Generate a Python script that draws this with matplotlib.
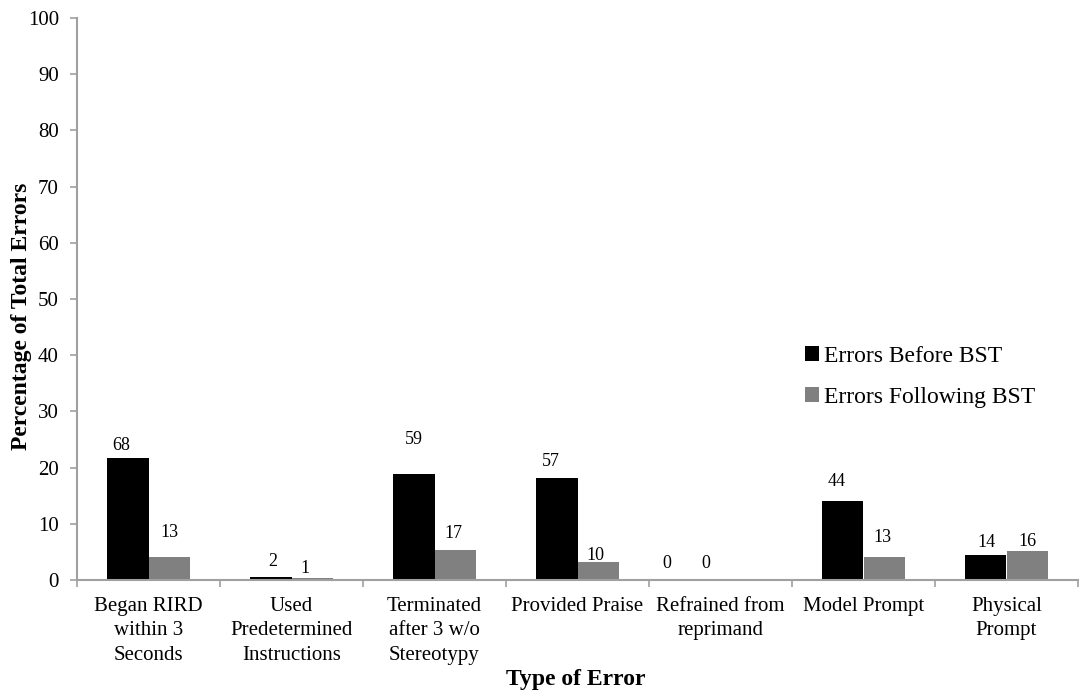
import matplotlib
matplotlib.use("Agg")
import matplotlib.pyplot as plt
from matplotlib.patches import Patch

plt.rcParams["font.family"] = ["Liberation Serif", "DejaVu Serif"]

# --- data ---
categories = ["Began RIRD\nwithin 3\nSeconds", "Used\nPredetermined\nInstructions",
              "Terminated\nafter 3 w/o\nStereotypy", "Provided Praise",
              "Refrained from\nreprimand", "Model Prompt", "Physical\nPrompt"]
pct_before = [21.7, 0.6, 18.8, 18.2, 0.0, 14.0, 4.5]     # % of total errors
pct_after = [4.1, 0.3, 5.4, 3.2, 0.0, 4.1, 5.1]
count_before = [68, 2, 59, 57, 0, 44, 14]                 # printed labels
count_after = [13, 1, 17, 10, 0, 13, 16]

# label nudges (pixels) - the original labels were hand placed
off_before = [(-7, 13), (2, 15), (0, 35), (-6, 16), (-33, 17), (-6, 20), (0, 12)]
off_after = [(0, 24), (-7, 10), (-2, 16), (-3, 7), (-35, 17), (-2, 19), (0, 10)]

BLACK, GRAY, AXC = "#000000", "#808080", "#a0a0a0"
w = 0.287

fig = plt.figure(figsize=(10.8, 6.96), dpi=100)
ax = fig.add_axes([77 / 1080, 1 - 580 / 696, 1001 / 1080, 562 / 696])

x = list(range(len(categories)))
ax.bar([i - w / 2 for i in x], pct_before, width=w, color=BLACK, lw=0)
ax.bar([i + w / 2 for i in x], pct_after, width=w, color=GRAY, lw=0)

for vals, cnts, offs, shift in [(pct_before, count_before, off_before, -w / 2),
                                (pct_after, count_after, off_after, w / 2)]:
    for i, (v, c, (dx, dy)) in enumerate(zip(vals, cnts, offs)):
        ax.annotate(str(c), (i + shift, v), xytext=(dx, dy), textcoords="offset pixels",
                    ha="center", va="center", fontsize=13)

ax.set_xlim(-0.5, len(categories) - 0.5)
ax.set_ylim(0, 100)
ax.set_yticks(range(0, 101, 10))
ax.set_xticks([i - 0.5 for i in range(len(categories) + 1)])
ax.set_xticklabels([])
ax.set_xticks(x, minor=True)
ax.set_xticklabels(categories, minor=True, fontsize=15, linespacing=1.4)
ax.tick_params(axis="x", which="minor", length=0, pad=12)
ax.tick_params(axis="x", which="major", length=5, color=AXC, width=1.2)
ax.tick_params(axis="y", length=5, color=AXC, width=1.2, labelsize=15, pad=8)
for s in ("top", "right"):
    ax.spines[s].set_visible(False)
for s in ("left", "bottom"):
    ax.spines[s].set_color(AXC)
    ax.spines[s].set_linewidth(1.5)

fig.text(22 / 1080, 1 - 316 / 696, "Percentage of Total Errors", rotation=90,
         ha="center", va="center", fontsize=17, fontweight="bold")
fig.text(576 / 1080, 1 - 680 / 696, "Type of Error", ha="center", va="center",
         fontsize=17, fontweight="bold")

handles = [Patch(facecolor=BLACK, label="Errors Before BST"),
           Patch(facecolor=GRAY, label="Errors Following BST")]
fig.legend(handles=handles, loc="upper left", bbox_to_anchor=(805 / 1080, 1 - 346 / 696),
           frameon=False, fontsize=17, handlelength=0.6, handleheight=0.6,
           handletextpad=0.2, labelspacing=0.85, borderpad=0, borderaxespad=0)

fig.savefig("out.png", dpi=100)
